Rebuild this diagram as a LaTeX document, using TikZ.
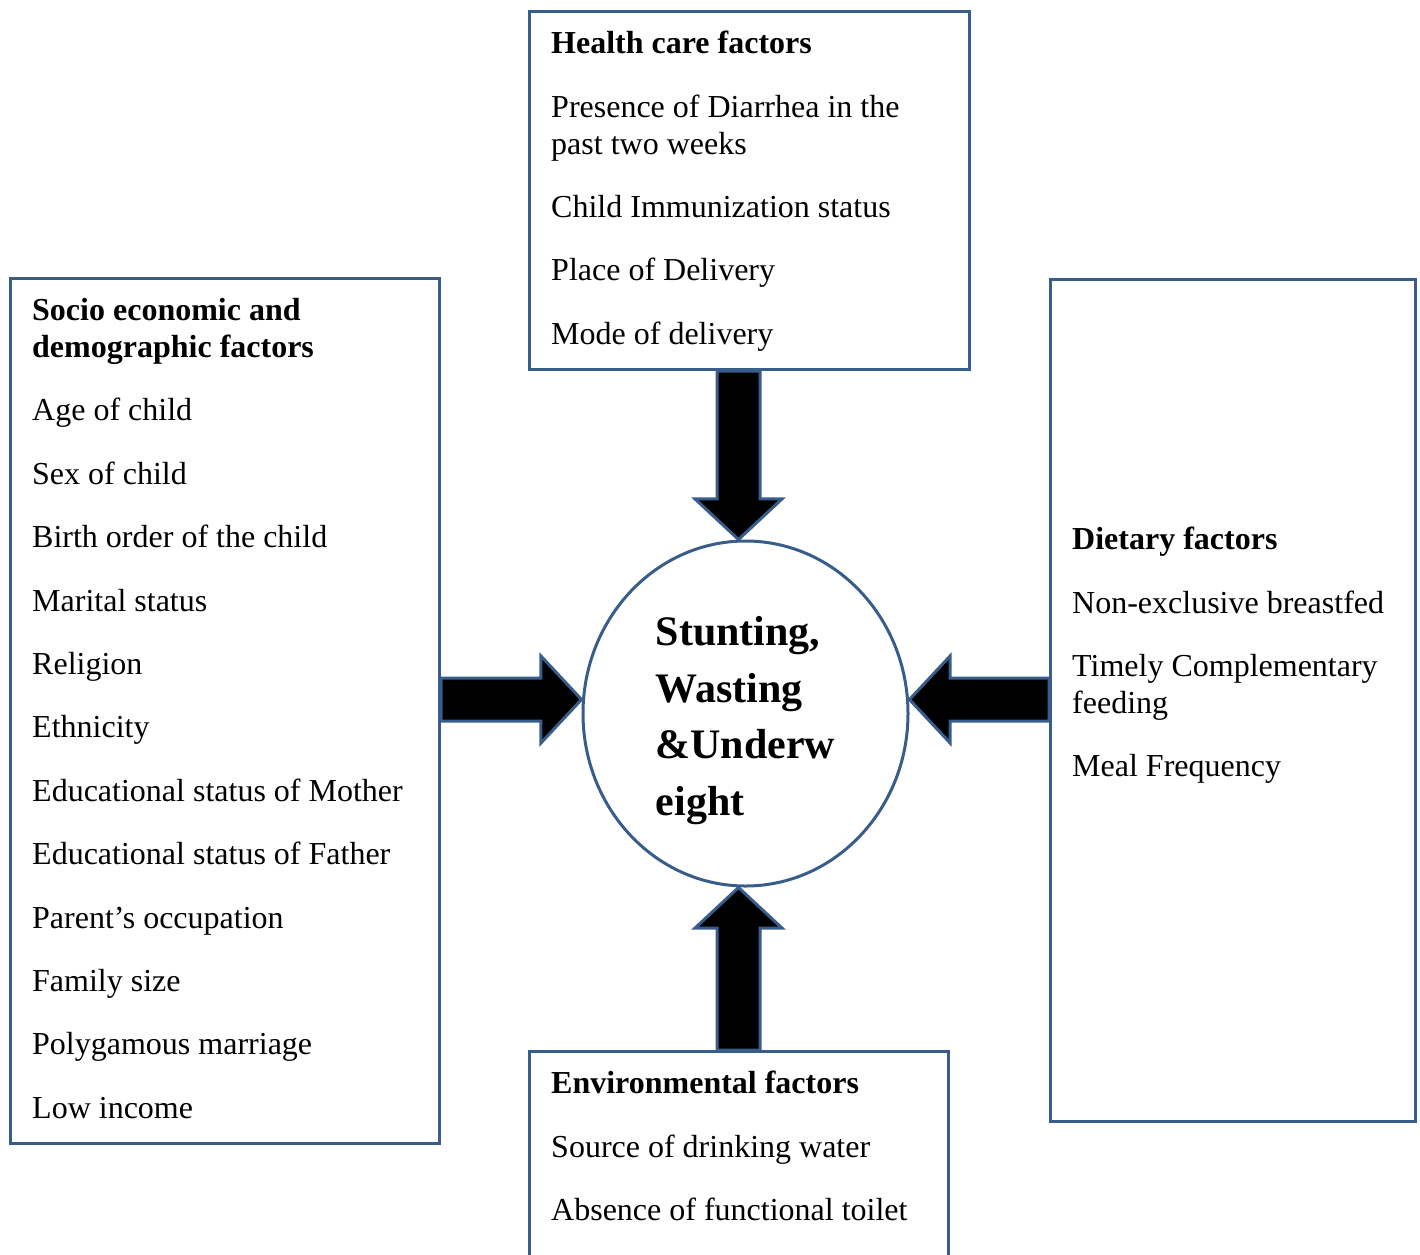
\documentclass[tikz,border=0pt]{standalone}
\usepackage{fontspec}
\setmainfont{Liberation Serif}
\usetikzlibrary{calc,shapes.geometric,shapes.arrows}
\definecolor{frameblue}{RGB}{56,93,138}

\begin{document}
\begin{tikzpicture}[x=1pt,y=-1pt,
    box/.style={draw=frameblue,line width=3pt,anchor=north west,inner sep=0pt},
    list/.style={anchor=north west,align=left,inner sep=0pt,font=\fontsize{32}{37}\selectfont},
    fatarrow/.style={single arrow,draw=frameblue,fill=black,line width=3pt,inner sep=0pt,inner ysep=20pt,
        single arrow head extend=22pt,single arrow tip angle=94,sloped,allow upside down,
        anchor=tail,outer sep=0pt}]
    \useasboundingbox (0,0) rectangle (1420,1254);

    % Frames
    \node[box,minimum width=440pt,minimum height=358pt] (health) at (528,10) {};
    \node[box,minimum width=429pt,minimum height=865pt] (socio) at (9,277) {};
    \node[box,minimum width=365pt,minimum height=842pt] (diet) at (1049,278) {};
    \node[box,minimum width=419pt,minimum height=225pt] (env) at (528,1050) {};

    % Outcome in the middle
    \node[ellipse,draw=frameblue,line width=3pt,minimum width=325pt,minimum height=345pt,
        align=left,font=\fontsize{42}{56.7}\selectfont\bfseries] (outcome) at (745.5,713.5)
        {\rule{0pt}{43pt}Stunting,\\Wasting\\\&Underw\\eight};

    % Factor lists
    \node[list] (healthtext) at (551,31) {\textbf{Health care factors}\\[26.4pt]
        Presence of Diarrhea in the\\past two weeks\\[26.4pt]
        Child Immunization status\\[26.4pt]
        Place of Delivery\\[26.4pt]
        Mode of delivery};
    \node[list] (sociotext) at (32,298) {\textbf{Socio economic and}\\\textbf{demographic factors}\\[26.4pt]
        Age of child\\[26.4pt]
        Sex of child\\[26.4pt]
        Birth order of the child\\[26.4pt]
        Marital status\\[26.4pt]
        Religion\\[26.4pt]
        Ethnicity\\[26.4pt]
        Educational status of Mother\\[26.4pt]
        Educational status of Father\\[26.4pt]
        Parent’s occupation\\[26.4pt]
        Family size\\[26.4pt]
        Polygamous marriage\\[26.4pt]
        Low income};
    \node[list] (diettext) at (1072,527) {\textbf{Dietary factors}\\[26.4pt]
        Non-exclusive breastfed\\[26.4pt]
        Timely Complementary\\feeding\\[26.4pt]
        Meal Frequency};
    \node[list] (envtext) at (551,1071) {\textbf{Environmental factors}\\[26.4pt]
        Source of drinking water\\[26.4pt]
        Absence of functional toilet};

    % Block arrows into the outcome
    \path let \p1=([xshift=-7pt]outcome.north |- health.south), \p2=([xshift=-7pt]outcome.north),
        \n1={veclen(\x2-\x1,\y2-\y1)} in (\p1) -- (\p2) node[fatarrow,pos=0,minimum height=\n1] {};
    \path let \p1=([xshift=-7pt]outcome.south |- env.north), \p2=([xshift=-7pt]outcome.south),
        \n1={veclen(\x2-\x1,\y2-\y1)} in (\p1) -- (\p2) node[fatarrow,pos=0,minimum height=\n1] {};
    \path let \p1=([yshift=14pt]outcome.west -| socio.east), \p2=([yshift=14pt]outcome.west),
        \n1={veclen(\x2-\x1,\y2-\y1)} in (\p1) -- (\p2) node[fatarrow,pos=0,minimum height=\n1] {};
    \path let \p1=([yshift=14pt]outcome.east -| diet.west), \p2=([yshift=14pt]outcome.east),
        \n1={veclen(\x2-\x1,\y2-\y1)} in (\p1) -- (\p2) node[fatarrow,pos=0,minimum height=\n1] {};
\end{tikzpicture}
\end{document}
